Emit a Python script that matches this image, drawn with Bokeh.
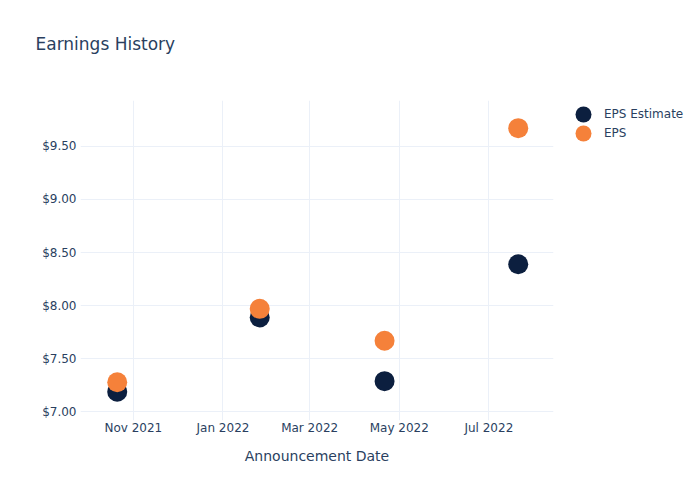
from datetime import datetime
from bokeh.plotting import figure
from bokeh.layouts import row
from bokeh.models import (Range1d, NumeralTickFormatter, DatetimeTickFormatter, MonthsTicker,
                          SingleIntervalTicker, Legend, LegendItem, Title)
from bokeh.embed import file_html
from bokeh.resources import INLINE

# Data
dates = [datetime(2021, 10, 21), datetime(2022, 1, 26), datetime(2022, 4, 21), datetime(2022, 7, 21)]
eps_estimate = [7.19, 7.89, 7.29, 8.39]
eps_actual = [7.28, 7.97, 7.67, 9.67]
series_names = ["EPS Estimate", "EPS"]
series_colors = ["#0c1f3f", "#f5813a"]
title_text = "Earnings History"
x_label = "Announcement Date"

FONT = "DejaVu Sans"
TXT = "#2a3f5f"
GRID = "#ebf0f8"

p = figure(width=560, height=500, output_backend="svg", toolbar_location=None,
           title=None, x_axis_type="datetime",
           x_range=Range1d(datetime(2021, 9, 26), datetime(2022, 8, 14)),
           y_range=Range1d(6.92, 9.93),
           min_border_left=80, min_border_right=7, min_border_top=100, min_border_bottom=80)
p.outline_line_color = None
p.background_fill_color = "white"
p.border_fill_color = "white"

r1 = p.scatter(dates, eps_estimate, size=20, color=series_colors[0], line_color=None)
r2 = p.scatter(dates, eps_actual, size=20, color=series_colors[1], line_color=None)

# title: an invisible spacer next to the frame, then the real title above it
p.add_layout(Title(text=" ", text_font=FONT, text_font_size="12px", standoff=28), "above")
p.add_layout(Title(text=title_text, text_font=FONT, text_font_size="17px",
                   text_font_style="normal", text_color=TXT, align="left",
                   offset=-45, standoff=5), "above")

# axes
xa = p.xaxis[0]
xa.ticker = MonthsTicker(months=[0, 2, 4, 6, 8, 10])
xa.formatter = DatetimeTickFormatter(months="%b %Y", days="%b %Y", years="%Y")
xa.axis_label = x_label
xa.axis_label_text_font = FONT
xa.axis_label_text_font_size = "14px"
xa.axis_label_text_font_style = "normal"
xa.axis_label_text_color = TXT
xa.axis_label_standoff = 10

ya = p.yaxis[0]
ya.ticker = SingleIntervalTicker(interval=0.5)
ya.formatter = NumeralTickFormatter(format="$0.00")

for ax in (xa, ya):
    ax.axis_line_color = None
    ax.major_tick_line_color = None
    ax.minor_tick_line_color = None
    ax.major_tick_out = 0
    ax.major_tick_in = 0
    ax.major_label_standoff = 0
    ax.major_label_text_font = FONT
    ax.major_label_text_font_size = "12px"
    ax.major_label_text_color = TXT

p.xgrid.ticker = xa.ticker
p.ygrid.ticker = ya.ticker
p.xgrid.grid_line_color = GRID
p.ygrid.grid_line_color = GRID

# legend panel (separate canvas to the right of the plot; its frame is aligned with the plot's)
lf = figure(width=140, height=500, output_backend="svg", toolbar_location=None,
            x_range=Range1d(0, 1), y_range=Range1d(0, 1),
            x_axis_location=None, y_axis_location=None,
            min_border_left=0, min_border_right=0, min_border_top=0, min_border_bottom=0)
lf.outline_line_color = None
lf.xgrid.visible = False
lf.ygrid.visible = False
lf.background_fill_color = "white"
lf.border_fill_color = "white"

# same data, outside this panel's ranges: only used for legend glyphs
l1 = lf.scatter(dates, eps_estimate, size=20, color=series_colors[0], line_color=None)
l2 = lf.scatter(dates, eps_actual, size=20, color=series_colors[1], line_color=None)

for rend, name, vy in ((l1, series_names[0], 286), (l2, series_names[1], 267)):
    lg = Legend(items=[LegendItem(label=name, renderers=[rend])],
                location=(3, vy), glyph_width=40, glyph_height=40,
                padding=0, margin=0, label_standoff=1,
                label_text_font=FONT, label_text_font_size="12px", label_text_color=TXT,
                border_line_color=None, background_fill_alpha=0)
    lf.add_layout(lg, "center")

layout = row(p, lf)
open("out.html", "w").write(file_html(layout, INLINE))
